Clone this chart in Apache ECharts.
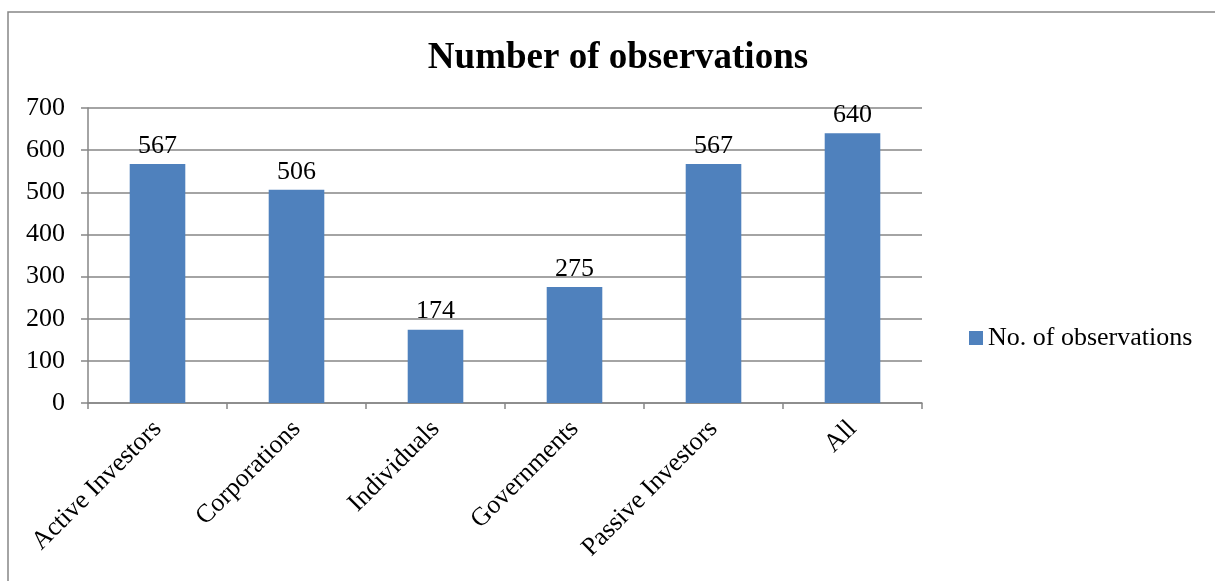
<!DOCTYPE html>
<html><head><meta charset="utf-8">
<script src="https://cdn.jsdelivr.net/npm/echarts@6/dist/echarts.min.js"></script>
<style>html,body{margin:0;padding:0;background:#fff}#c{width:1215px;height:581px}</style>
</head><body><div id="c"></div>
<script>
const categories = ["Active Investors","Corporations","Individuals","Governments","Passive Investors","All"];
const values = [567,506,174,275,567,640];
const seriesName = "No. of observations";
const titleText = "Number of observations";
const FONT = '"Liberation Serif","Times New Roman",serif';
const chart = echarts.init(document.getElementById('c'));
chart.setOption({
  animation:false,
  backgroundColor:'#fff',
  graphic:[{type:'rect',shape:{x:8,y:12,width:1220,height:600},style:{fill:'none',stroke:'#868686',lineWidth:1.5},z:-1}],
  title:{text:titleText,left:613,textAlign:'center',top:35,textStyle:{fontFamily:FONT,fontSize:37,fontWeight:'bold',color:'#000'}},
  legend:{data:[seriesName],left:964,top:320,itemWidth:14,itemHeight:14,itemGap:5,icon:'rect',textStyle:{fontFamily:FONT,fontSize:26,color:'#000'}},
  grid:{left:88,right:293,top:108,bottom:178,containLabel:false},
  xAxis:{type:'category',data:categories,
    axisLine:{lineStyle:{color:'#868686',width:1.5}},
    axisTick:{show:true,length:6,lineStyle:{color:'#868686',width:1.5}},
    axisLabel:{rotate:45,fontFamily:FONT,fontSize:26,color:'#000',margin:22,interval:0}},
  yAxis:{type:'value',min:0,max:700,interval:100,
    axisLine:{show:true,lineStyle:{color:'#868686',width:1.5}},
    axisTick:{show:true,length:7,lineStyle:{color:'#868686',width:1.5}},
    splitLine:{lineStyle:{color:'#868686',width:1.5}},
    axisLabel:{fontFamily:FONT,fontSize:26,color:'#000',margin:23}},
  series:[{type:'bar',name:seriesName,data:values,barWidth:'40%',
    itemStyle:{color:'#4F81BD'},
    label:{show:true,position:'top',distance:5,fontFamily:FONT,fontSize:26,color:'#000'}}]
});
</script></body></html>
